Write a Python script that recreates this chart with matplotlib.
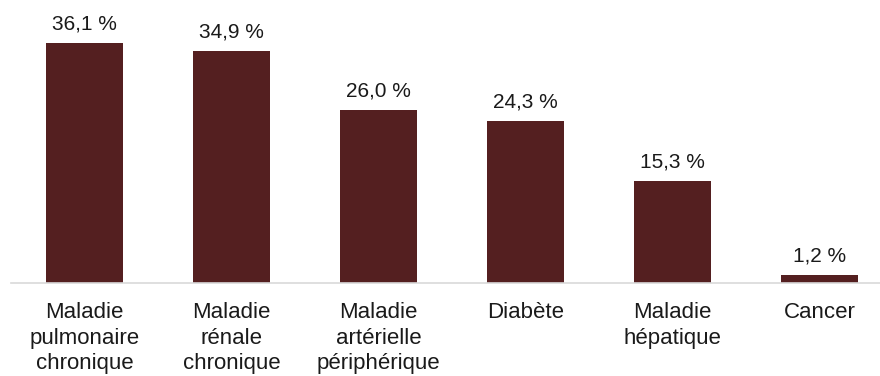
import matplotlib
matplotlib.use("Agg")
import matplotlib.pyplot as plt

categories = ["Maladie\npulmonaire\nchronique", "Maladie\nrénale\nchronique",
              "Maladie\nartérielle\npériphérique", "Diabète",
              "Maladie\nhépatique", "Cancer"]
values = [36.1, 34.9, 26.0, 24.3, 15.3, 1.2]
value_labels = ["36,1 %", "34,9 %", "26,0 %", "24,3 %", "15,3 %", "1,2 %"]

plt.rcParams["font.family"] = ["Liberation Sans", "DejaVu Sans"]

W, H = 880, 376
fig = plt.figure(figsize=(W / 100, H / 100), dpi=100)
base_y = 283
ax = fig.add_axes([11 / W, (H - base_y) / H, 882 / W, base_y / H])

x = range(len(values))
ax.bar(x, values, width=0.525, color="#541f20", zorder=2)
ax.set_xlim(-0.5, 5.5)
ax.set_ylim(0, base_y / 6.65)

for i, (v, lab) in enumerate(zip(values, value_labels)):
    ax.annotate(lab, (i, v), xytext=(0, 7), textcoords="offset points",
                ha="center", va="bottom", fontsize=15, color="#1a1a1a")

ax.set_xticks(list(x))
ax.set_xticklabels(categories, fontsize=16, color="#1a1a1a", linespacing=1.27)
ax.tick_params(axis="x", length=0, pad=14)
ax.set_yticks([])
for s in ["top", "right", "left"]:
    ax.spines[s].set_visible(False)
ax.spines["bottom"].set_color("#d9d9d9")
ax.spines["bottom"].set_linewidth(1.2)

fig.savefig("out.png", dpi=100)
